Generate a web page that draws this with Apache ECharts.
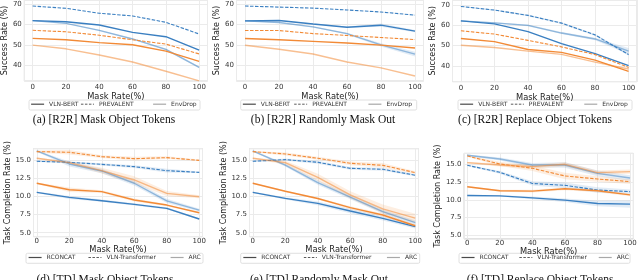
<!DOCTYPE html>
<html><head><meta charset="utf-8">
<script src="https://cdn.jsdelivr.net/npm/echarts@6/dist/echarts.min.js"></script>
<style>html,body{margin:0;padding:0;background:#fff}#c{width:640px;height:280px}</style>
</head><body><div id="c"></div>
<script>
// ---------- data ----------
const maskRates = [0, 20, 40, 60, 80, 100];
const xTicks = [0, 20, 40, 60, 80, 100];
const topYTicks = [40, 50, 60, 70];
const bottomYTicks = [5.0, 7.5, 10.0, 12.5, 15.0];

const topMethods = ['VLN-BERT', 'PREVALENT', 'EnvDrop'];
const bottomMethods = ['RCONCAT', 'VLN-Transformer', 'ARC'];

// (a) [R2R] Mask Object Tokens
const a_vlnbert_blue   = [61.9, 61.4, 59.8, 56.2, 54.1, 47.6];
const a_prevalent_blue = [69.0, 67.9, 65.5, 64.2, 61.1, 55.4];
const a_envdrop_blue   = [61.9, 60.6, 57.2, 53.0, 47.9, 39.2];
const a_vlnbert_orange   = [53.3, 52.6, 51.2, 50.2, 47.1, 42.1];
const a_prevalent_orange = [57.2, 56.5, 54.8, 52.6, 50.5, 45.7];
const a_envdrop_orange   = [50.0, 48.2, 45.2, 41.8, 37.3, 32.6];
const a_envdrop_blue_ci  = [0.2, 0.2, 0.3, 0.3, 0.5, 0.4];

// (b) [R2R] Randomly Mask Out
const b_vlnbert_blue   = [61.8, 62.0, 60.3, 58.7, 59.7, 56.8];
const b_prevalent_blue = [69.0, 68.5, 68.0, 67.1, 66.1, 64.6];
const b_envdrop_blue   = [61.8, 61.0, 58.9, 55.6, 50.1, 45.6];
const b_vlnbert_orange   = [53.2, 52.6, 51.8, 51.0, 50.0, 48.6];
const b_prevalent_orange = [57.1, 57.1, 55.6, 54.7, 53.7, 52.7];
const b_envdrop_orange   = [49.9, 48.0, 45.7, 41.8, 38.9, 35.0];
const b_vlnbert_blue_ci  = [0.2, 0.2, 0.2, 0.3, 0.8, 0.6];
const b_envdrop_blue_ci  = [0.2, 0.2, 0.3, 0.4, 0.8, 1.2];

// (c) [R2R] Replace Object Tokens
const c_vlnbert_blue   = [62.2, 60.7, 56.9, 51.0, 46.1, 40.2];
const c_prevalent_blue = [69.3, 67.5, 64.9, 61.1, 55.3, 45.6];
const c_envdrop_blue   = [62.2, 61.2, 60.0, 56.2, 53.3, 47.3];
const c_vlnbert_orange   = [53.5, 52.0, 48.1, 46.7, 42.9, 37.4];
const c_prevalent_orange = [57.3, 55.7, 52.6, 49.4, 45.6, 39.3];
const c_envdrop_orange   = [50.2, 49.1, 47.3, 45.7, 41.9, 38.5];
const c_prevalent_blue_ci = [0.1, 0.3, 0.4, 0.4, 0.5, 0.6];
const c_envdrop_blue_ci   = [0.2, 0.3, 0.4, 0.5, 0.6, 1.5];

// (d) [TD] Mask Object Tokens
const d_rconcat_blue = [10.55, 9.85, 9.40, 8.90, 8.35, 6.88];
const d_vlnt_blue    = [14.82, 14.68, 14.40, 14.08, 13.53, 13.30];
const d_arc_blue     = [16.24, 14.45, 13.49, 11.80, 9.37, 8.10];
const d_rconcat_orange = [11.80, 10.90, 10.65, 9.50, 8.80, 7.75];
const d_vlnt_orange    = [16.15, 16.06, 15.46, 15.18, 15.32, 14.95];
const d_arc_orange     = [15.23, 14.63, 13.53, 12.25, 10.40, 9.95];
const d_rconcat_blue_ci   = [0.10, 0.20, 0.15, 0.15, 0.15, 0.10];
const d_vlnt_blue_ci      = [0.10, 0.10, 0.15, 0.20, 0.25, 0.10];
const d_arc_blue_ci       = [0.10, 0.35, 0.30, 0.30, 0.30, 0.20];
const d_rconcat_orange_ci = [0.10, 0.30, 0.20, 0.20, 0.15, 0.10];
const d_vlnt_orange_ci    = [0.15, 0.30, 0.20, 0.25, 0.20, 0.10];
const d_arc_orange_ci     = [0.10, 0.20, 0.40, 0.50, 0.35, 0.20];

// (e) [TD] Randomly Mask Out
const e_rconcat_blue = [10.55, 9.72, 9.03, 7.98, 6.97, 5.83];
const e_vlnt_blue    = [14.82, 15.05, 14.68, 13.85, 13.72, 12.90];
const e_arc_blue     = [16.24, 14.30, 11.90, 9.90, 7.90, 6.38];
const e_rconcat_orange = [11.80, 10.70, 9.70, 8.44, 7.43, 5.96];
const e_vlnt_orange    = [16.15, 15.83, 15.23, 14.54, 14.27, 13.26];
const e_arc_orange     = [15.23, 14.63, 12.60, 10.20, 8.28, 7.00];
const e_rconcat_blue_ci   = [0.10, 0.15, 0.25, 0.30, 0.30, 0.25];
const e_vlnt_blue_ci      = [0.10, 0.15, 0.20, 0.20, 0.20, 0.15];
const e_arc_blue_ci       = [0.10, 0.20, 0.30, 0.30, 0.30, 0.30];
const e_rconcat_orange_ci = [0.10, 0.10, 0.15, 0.20, 0.25, 0.20];
const e_vlnt_orange_ci    = [0.10, 0.20, 0.20, 0.25, 0.30, 0.20];
const e_arc_orange_ci     = [0.10, 0.25, 0.50, 0.50, 0.60, 0.60];

// (f) [TD] Replace Object Tokens
const f_rconcat_blue = [10.61, 10.56, 10.28, 9.95, 9.48, 9.39];
const f_vlnt_blue    = [14.86, 13.87, 12.30, 12.04, 11.38, 11.15];
const f_arc_blue     = [16.27, 15.75, 14.90, 14.90, 13.73, 13.07];
const f_rconcat_orange = [11.83, 11.27, 11.22, 11.55, 11.27, 10.70];
const f_vlnt_orange    = [16.17, 15.05, 14.44, 13.36, 12.93, 12.56];
const f_arc_orange     = [15.23, 14.90, 14.67, 15.00, 13.83, 13.97];
const f_rconcat_blue_ci   = [0.10, 0.10, 0.20, 0.25, 0.40, 0.50];
const f_vlnt_blue_ci      = [0.10, 0.20, 0.30, 0.40, 0.40, 0.30];
const f_arc_blue_ci       = [0.10, 0.20, 0.30, 0.40, 0.40, 0.40];
const f_rconcat_orange_ci = [0.10, 0.15, 0.20, 0.20, 0.20, 0.20];
const f_vlnt_orange_ci    = [0.10, 0.30, 0.40, 0.45, 0.40, 0.35];
const f_arc_orange_ci     = [0.10, 0.20, 0.30, 0.30, 0.30, 0.30];

const captions = [
  '(a) [R2R] Mask Object Tokens', '(b) [R2R] Randomly Mask Out', '(c) [R2R] Replace Object Tokens',
  '(d) [TD] Mask Object Tokens', '(e) [TD] Randomly Mask Out', '(f) [TD] Replace Object Tokens'
];

// ---------- layout / style ----------
const BLUE = '#3a7fc1', ORANGE = '#f28a36';
const panels = [
  {grid:{left:21.5, top:0, width:186, height:81}, x:[-5,105], y:[32.54,71.95], yi:10, yName:'Success Rate (%)', top:true,
   s:[a_vlnbert_blue,a_prevalent_blue,a_envdrop_blue,a_vlnbert_orange,a_prevalent_orange,a_envdrop_orange],
   ci:[null,null,a_envdrop_blue_ci,null,null,null],
   cap:[104,119.5], leg:[29,100,171], ng:12},
  {grid:{left:236.5, top:0, width:187, height:81}, x:[-5,105], y:[32.54,71.95], yi:10, yName:'Success Rate (%)', top:true,
   s:[b_vlnbert_blue,b_prevalent_blue,b_envdrop_blue,b_vlnbert_orange,b_prevalent_orange,b_envdrop_orange],
   ci:[b_vlnbert_blue_ci,null,b_envdrop_blue_ci,null,null,null],
   cap:[323,119.5], leg:[240.7,100,176], ng:12},
  {grid:{left:452.5, top:0, width:186.7, height:81.7}, x:[-5,105], y:[32.28,72.46], yi:10, yName:'Success Rate (%)', top:true,
   s:[c_vlnbert_blue,c_prevalent_blue,c_envdrop_blue,c_vlnbert_orange,c_prevalent_orange,c_envdrop_orange],
   ci:[null,c_prevalent_blue_ci,c_envdrop_blue_ci,null,null,null],
   cap:[535,119.5], leg:[458,100,174], ng:12},
  {grid:{left:33.5, top:148.7, width:169, height:88}, x:[-2,102], y:[4.45,16.55], yi:2.5, yName:'Task Completion Rate (%)', top:false,
   s:[d_rconcat_blue,d_vlnt_blue,d_arc_blue,d_rconcat_orange,d_vlnt_orange,d_arc_orange],
   ci:[d_rconcat_blue_ci,d_vlnt_blue_ci,d_arc_blue_ci,d_rconcat_orange_ci,d_vlnt_orange_ci,d_arc_orange_ci],
   cap:[105,280], leg:[26,253.3,177], ng:7.5},
  {grid:{left:249.5, top:148.7, width:169, height:88}, x:[-2,102], y:[4.45,16.55], yi:2.5, yName:'Task Completion Rate (%)', top:false,
   s:[e_rconcat_blue,e_vlnt_blue,e_arc_blue,e_rconcat_orange,e_vlnt_orange,e_arc_orange],
   ci:[e_rconcat_blue_ci,e_vlnt_blue_ci,e_arc_blue_ci,e_rconcat_orange_ci,e_vlnt_orange_ci,e_arc_orange_ci],
   cap:[319,280], leg:[240.7,253.3,179], ng:7.5},
  {grid:{left:464, top:153.3, width:169.3, height:85.5}, x:[-2,102], y:[4.51,16.55], yi:2.5, yName:'Task Completion Rate (%)', top:false,
   s:[f_rconcat_blue,f_vlnt_blue,f_arc_blue,f_rconcat_orange,f_vlnt_orange,f_arc_orange],
   ci:[f_rconcat_blue_ci,f_vlnt_blue_ci,f_arc_blue_ci,f_rconcat_orange_ci,f_vlnt_orange_ci,f_arc_orange_ci],
   cap:[540,280], leg:[459,253.3,171], ng:6}
];

const styles = [
  {color:BLUE, type:'solid', width:1.4, opacity:1},
  {color:BLUE, type:[3.5,1.5], width:1.1, opacity:1},
  {color:BLUE, type:'solid', width:1.4, opacity:0.5},
  {color:ORANGE, type:'solid', width:1.4, opacity:1},
  {color:ORANGE, type:[3.5,1.5], width:1.1, opacity:1},
  {color:ORANGE, type:'solid', width:1.4, opacity:0.55}
];
const legendStyles = [
  {color:'#4a4a4a', type:'solid', width:1.2},
  {color:'#4a4a4a', type:[2.5,1.5], width:0.9},
  {color:'#a8a8a8', type:'solid', width:1.2}
];

const isTick = (v, step) => Math.abs(v / step - Math.round(v / step)) < 1e-6;

const grid = [], xAxis = [], yAxis = [], series = [], legend = [], graphic = [];
panels.forEach((p, i) => {
  grid.push(Object.assign({show:true, borderColor:'#d4d4d4', borderWidth:1, backgroundColor:'#fff', containLabel:false}, p.grid));
  xAxis.push({
    type:'value', gridIndex:i, min:p.x[0], max:p.x[1], minInterval:20, maxInterval:20,
    axisLine:{show:false}, axisTick:{show:false},
    splitLine:{show:true, lineStyle:{color:'#ebebeb', width:1}},
    axisLabel:{fontSize:7, color:'#333', margin: p.top ? 3 : 1, fontFamily:'DejaVu Sans',
      formatter:v => (isTick(v,20) && xTicks.includes(Math.round(v))) ? String(Math.round(v)) : ''},
    name:'Mask Rate(%)', nameLocation:'middle', nameGap: p.ng,
    nameTextStyle:{fontSize:8.3, color:'#222', fontFamily:'DejaVu Sans'}
  });
  const yt = p.top ? topYTicks : bottomYTicks;
  yAxis.push({
    type:'value', gridIndex:i, min:p.y[0], max:p.y[1], minInterval:p.yi, maxInterval:p.yi,
    axisLine:{show:false}, axisTick:{show:false},
    splitLine:{show:true, lineStyle:{color:'#ebebeb', width:1}},
    axisLabel:{fontSize:7, color:'#333', margin:2.5, fontFamily:'DejaVu Sans',
      formatter:v => {
        if (!isTick(v, p.yi)) return '';
        const m = yt.find(t => Math.abs(t - v) < 1e-6);
        if (m === undefined) return '';
        return p.top ? String(m) : m.toFixed(1);
      }},
    name:p.yName, nameLocation:'middle', nameGap: p.top ? 12 : 17,
    nameTextStyle:{fontSize:8, color:'#222', fontFamily:'DejaVu Sans'}
  });
  const names = p.top ? topMethods : bottomMethods;
  // confidence bands (custom polygons through the axis scales)
  p.s.forEach((vals, k) => {
    const ci = p.ci[k];
    if (!ci) return;
    const st = styles[k];
    series.push({
      type:'custom', name:'band' + i + '_' + k, xAxisIndex:i, yAxisIndex:i, silent:true, z:1,
      data: maskRates.map((m, j) => [m, vals[j] - ci[j], vals[j] + ci[j]]),
      encode:{x:0, y:[1,2]},
      renderItem:(params, api) => {
        if (params.dataIndex !== 0) return null;
        const up = maskRates.map((m, j) => api.coord([m, vals[j] + ci[j]]));
        const lo = maskRates.map((m, j) => api.coord([m, vals[j] - ci[j]])).reverse();
        return {type:'polygon', shape:{points: up.concat(lo)},
          style:{fill: st.color, opacity: 0.15}};
      }
    });
  });
  p.s.forEach((vals, k) => {
    const st = styles[k];
    series.push({
      type:'line', name: 'p' + i + '_' + k, xAxisIndex:i, yAxisIndex:i,
      data: maskRates.map((m, j) => [m, vals[j]]),
      symbol:'none', silent:true, z:3,
      lineStyle:{color:st.color, type:st.type, width:st.width, opacity:st.opacity}
    });
  });
  // legend box + per-item legends
  const [lx, ly, lw] = p.leg;
  graphic.push({type:'rect', shape:{x:lx, y:ly, width:lw, height:10, r:1.5},
    style:{fill:'#fff', stroke:'#d8d8d8', lineWidth:0.8}, z:0, silent:true});
  const offs = p.top ? [1.5, 51.5, 123.5] : [2, 62, 144];
  const baseW = p.top ? 171 : 177;
  names.forEach((n, k) => {
    const ls = legendStyles[k];
    legend.push({data:[n], left: lx + offs[k] * lw / baseW, top: ly + 1, padding:0, itemGap:0,
      itemWidth:13, itemHeight:8, selectedMode:false,
      itemStyle:{opacity:0, borderWidth:0},
      lineStyle:{width:ls.width, color:ls.color, type:ls.type},
      textStyle:{fontSize:6, color:'#333', fontFamily:'DejaVu Sans'}});
  });
  graphic.push({type:'text', x:p.cap[0], y:p.cap[1], silent:true,
    style:{text:captions[i], fill:'#111', font:'11.5px "Liberation Serif"', textAlign:'center', textVerticalAlign:'middle'}});
});

// dummy series that feed the legends
[topMethods, bottomMethods].forEach((names, g) => {
  names.forEach((n, k) => {
    const ls = legendStyles[k];
    series.push({type:'line', name:n, xAxisIndex: g ? 3 : 0, yAxisIndex: g ? 3 : 0, data:[], symbol:'none',
      itemStyle:{color:ls.color}, lineStyle:{color:ls.color, type:ls.type, width:ls.width}});
  });
});

const chart = echarts.init(document.getElementById('c'), null, {renderer:'canvas'});
chart.setOption({animation:false, backgroundColor:'#fff', grid, xAxis, yAxis, series, legend, graphic});
</script>
</body></html>
